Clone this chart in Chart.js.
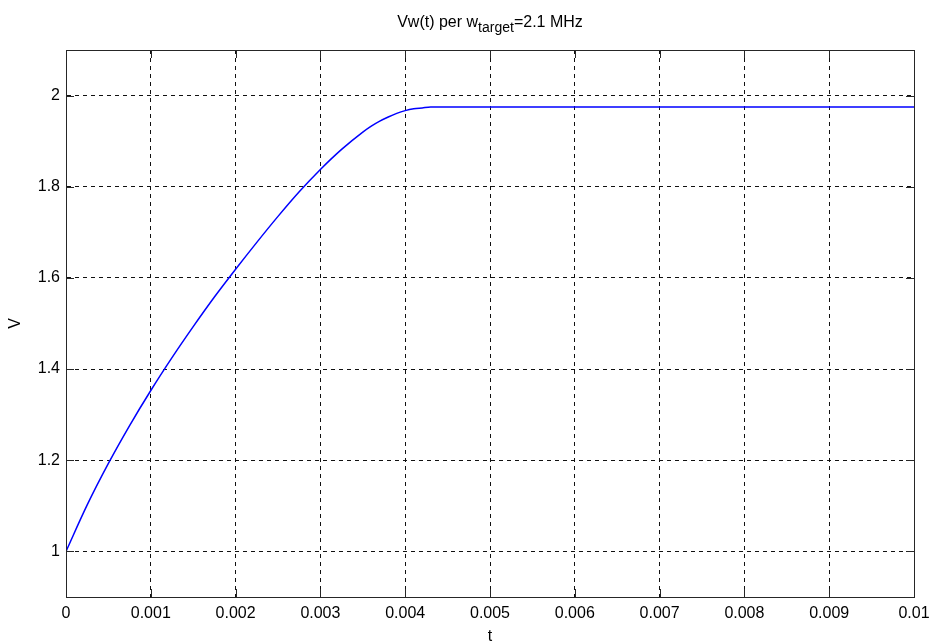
<!DOCTYPE html>
<html>
<head>
<meta charset="utf-8">
<script src="https://cdn.jsdelivr.net/npm/chart.js@4/dist/chart.umd.min.js"></script>
<style>
  html, body { margin: 0; padding: 0; background: #fff; }
  #wrap { width: 929px; height: 644px; }
</style>
</head>
<body>
<div id="wrap"><canvas id="c" width="929" height="644"></canvas></div>
<script>
// Time samples (s) and voltage response Vw(t)
const tValues = [0, 0.00025, 0.0005, 0.00075, 0.001, 0.00125, 0.0015, 0.00175, 0.002,
  0.00225, 0.0025, 0.00275, 0.003, 0.00325, 0.0035, 0.0036, 0.0037, 0.0038, 0.0039,
  0.004, 0.0041, 0.0042, 0.0043, 0.005, 0.006, 0.007, 0.008, 0.009, 0.01];
const vValues = [1.000, 1.102, 1.193, 1.276, 1.353, 1.425, 1.493, 1.558, 1.619,
  1.678, 1.735, 1.789, 1.838, 1.882, 1.920, 1.933, 1.944, 1.953, 1.961,
  1.967, 1.971, 1.973, 1.975, 1.975, 1.975, 1.975, 1.975, 1.975, 1.975];

// Axis ticks
const xTicks = [0, 0.001, 0.002, 0.003, 0.004, 0.005, 0.006, 0.007, 0.008, 0.009, 0.01];
const yTicks = [1, 1.2, 1.4, 1.6, 1.8, 2];

// Title pieces: main text, subscript, trailing text
const titleMain = 'Vw(t) per w';
const titleSub = 'target';
const titleTail = '=2.1 MHz';

const FONT = "'Liberation Sans', Arial, Helvetica, sans-serif";
const AXIS_COLOR = '#262626';
const TICK_LEN = 8;

const points = tValues.map((t, i) => ({ x: t, y: vValues[i] }));

// Solid box round the plot plus inward tick marks on all four sides
const boxPlugin = {
  id: 'box',
  afterDraw(chart) {
    const { ctx, chartArea: a, scales } = chart;
    ctx.save();
    ctx.strokeStyle = AXIS_COLOR;
    ctx.lineWidth = 1;
    ctx.setLineDash([]);
    ctx.beginPath();
    xTicks.forEach(v => {
      const px = Math.round(scales.x.getPixelForValue(v)) + 0.5;
      ctx.moveTo(px, a.bottom); ctx.lineTo(px, a.bottom - TICK_LEN);
      ctx.moveTo(px, a.top); ctx.lineTo(px, a.top + TICK_LEN);
    });
    yTicks.forEach(v => {
      const py = Math.round(scales.y.getPixelForValue(v)) + 0.5;
      ctx.moveTo(a.left, py); ctx.lineTo(a.left + TICK_LEN, py);
      ctx.moveTo(a.right, py); ctx.lineTo(a.right - TICK_LEN, py);
    });
    ctx.stroke();
    ctx.strokeRect(Math.round(a.left) + 0.5, Math.round(a.top) + 0.5,
      Math.round(a.right - a.left), Math.round(a.bottom - a.top));
    ctx.restore();
  }
};

// Title with a subscript
const titlePlugin = {
  id: 'subTitle',
  afterDraw(chart) {
    const { ctx, chartArea: a } = chart;
    const mainFont = '16px ' + FONT;
    const subFont = '14px ' + FONT;
    ctx.save();
    ctx.fillStyle = '#000';
    ctx.textBaseline = 'alphabetic';
    ctx.font = mainFont;
    const w1 = ctx.measureText(titleMain).width;
    const w3 = ctx.measureText(titleTail).width;
    ctx.font = subFont;
    const w2 = ctx.measureText(titleSub).width;
    const total = w1 + w2 + w3;
    let x = (a.left + a.right) / 2 - total / 2;
    const base = 27;
    ctx.font = mainFont;
    ctx.fillText(titleMain, x, base);
    x += w1;
    ctx.font = subFont;
    ctx.fillText(titleSub, x, base + 5);
    x += w2;
    ctx.font = mainFont;
    ctx.fillText(titleTail, x, base);
    ctx.restore();
  }
};

new Chart(document.getElementById('c'), {
  type: 'line',
  data: {
    datasets: [{
      data: points,
      borderColor: '#0000ff',
      borderWidth: 1.5,
      pointRadius: 0,
      cubicInterpolationMode: 'monotone',
      fill: false
    }]
  },
  options: {
    responsive: false,
    animation: false,
    events: [],
    layout: { padding: { left: 0, right: 15, top: 50, bottom: 0 } },
    plugins: {
      legend: { display: false },
      tooltip: { enabled: false },
      title: { display: false }
    },
    scales: {
      x: {
        type: 'linear',
        min: 0,
        max: 0.01,
        afterBuildTicks(scale) { scale.ticks = xTicks.map(v => ({ value: v })); },
        afterFit(scale) {
          scale.height = 47;
          scale.paddingLeft = 0;
          scale.paddingRight = 0;
        },
        grid: { color: '#111', lineWidth: 1, drawTicks: false },
        border: { display: true, color: AXIS_COLOR, dash: [4, 4] },
        ticks: {
          color: '#000',
          padding: 7,
          maxRotation: 0,
          autoSkip: false,
          font: { family: FONT, size: 16 },
          callback: v => String(v)
        },
        title: {
          display: true,
          text: 't',
          color: '#000',
          font: { family: FONT, size: 16 },
          padding: { top: 0, bottom: -2 }
        }
      },
      y: {
        type: 'linear',
        min: 0.9,
        max: 2.1,
        afterBuildTicks(scale) { scale.ticks = yTicks.map(v => ({ value: v })); },
        afterFit(scale) {
          scale.width = 66;
          scale.paddingTop = 0;
          scale.paddingBottom = 0;
        },
        grid: { color: '#111', lineWidth: 1, drawTicks: false },
        border: { display: true, color: AXIS_COLOR, dash: [4, 4] },
        ticks: {
          color: '#000',
          padding: 6,
          autoSkip: false,
          font: { family: FONT, size: 16 },
          callback: v => String(Math.round(v * 10) / 10)
        },
        title: {
          display: true,
          text: 'V',
          color: '#000',
          font: { family: FONT, size: 16 },
          padding: { top: 6, bottom: 0 }
        }
      }
    }
  },
  plugins: [boxPlugin, titlePlugin]
});
</script>
</body>
</html>
